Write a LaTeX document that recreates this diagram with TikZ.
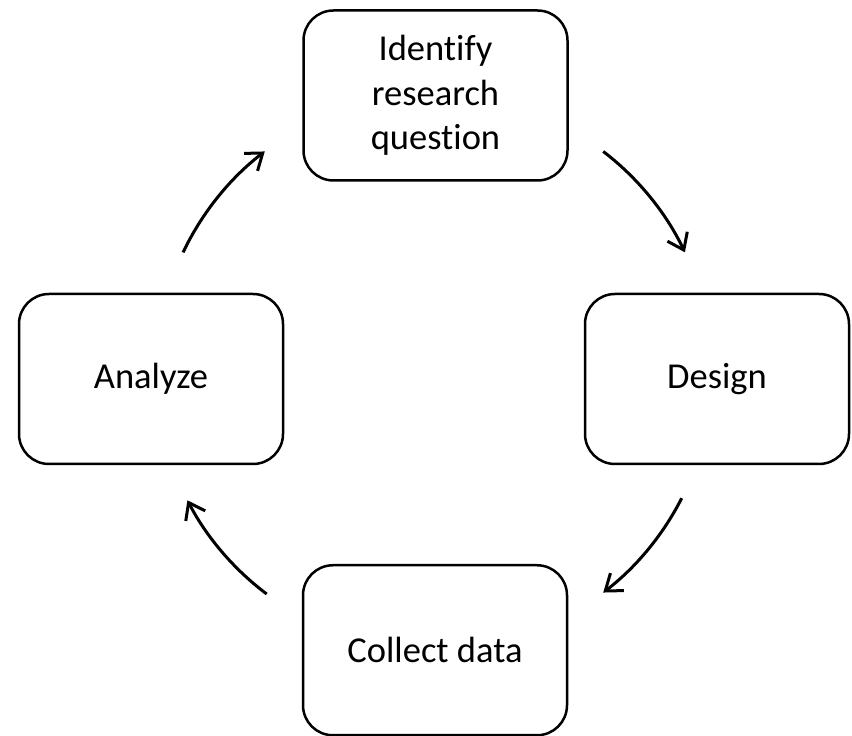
\documentclass[tikz,border=0pt]{standalone}
\usepackage{fontspec}
\setmainfont{Carlito}[Ligatures=NoCommon]
\usetikzlibrary{arrows.meta}
\begin{document}
\begin{tikzpicture}[x=1pt,y=1pt,
  stage/.style={draw, line width=2.5pt, rounded corners=30pt,
    minimum width=264pt, minimum height=170pt, inner sep=0pt,
    align=center, font=\fontsize{36.5}{44.5}\selectfont},
  cyc/.style={line width=3pt, -{Straight Barb[length=15pt,width=22pt]}}]
\useasboundingbox (0,0) rectangle (852,736);
% the four stages of the cycle
\node[stage] (q) at (435.5,640.5) {Identify\\research\\question};
\node[stage] (d) at (717,357) {Design};
\node[stage] (c) at (435,85.75) {Collect data};
\node[stage] (a) at (151,357) {Analyze};
% centre of the circle along which the arrows run
\coordinate (o) at (434,364);
\draw[cyc] ([shift={(154.5:278)}]o) arc[start angle=154.5, end angle=127.5, radius=278];
\draw[cyc] ([shift={(52.5:278)}]o) arc[start angle=52.5, end angle=25.5, radius=278];
\draw[cyc] ([shift={(-27:278)}]o) arc[start angle=-27, end angle=-52.5, radius=278];
\draw[cyc] ([shift={(-127:278)}]o) arc[start angle=-127, end angle=-152.5, radius=278];
\end{tikzpicture}
\end{document}
